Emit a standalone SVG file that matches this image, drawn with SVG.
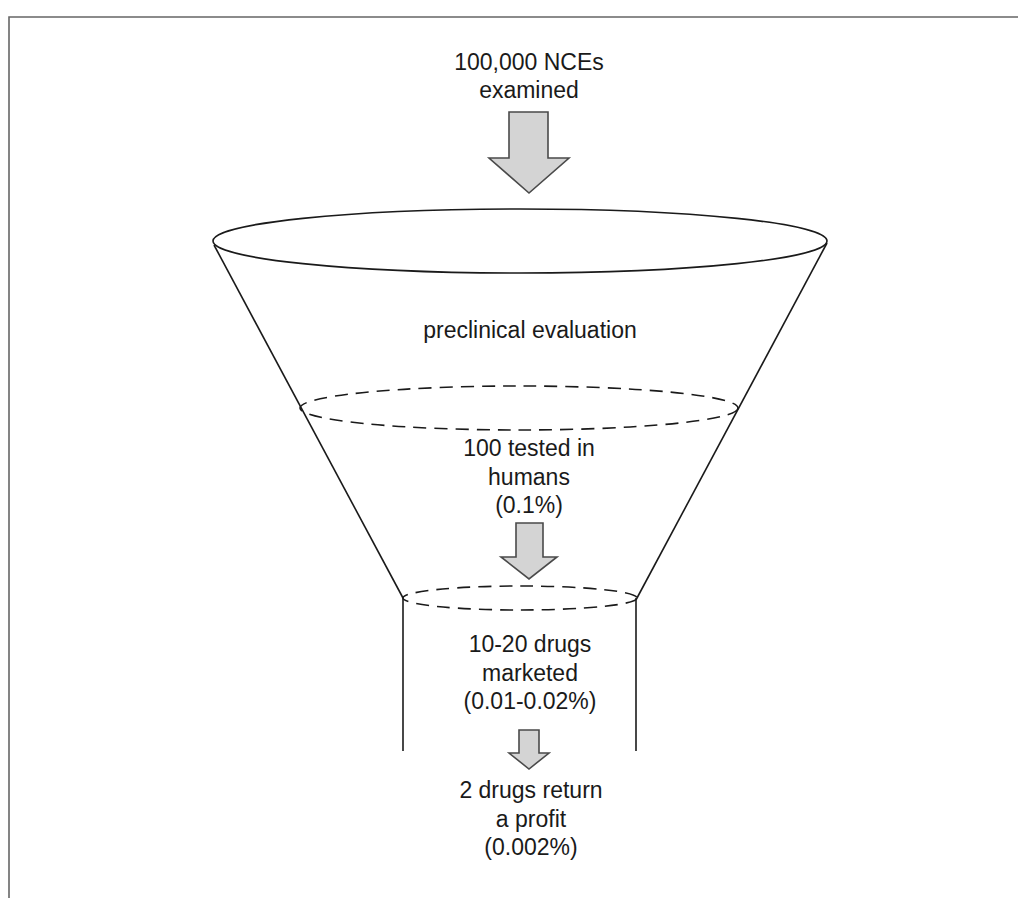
<svg xmlns="http://www.w3.org/2000/svg" width="1018" height="898" viewBox="0 0 1018 898">
<style>
.t{font-family:"Liberation Sans",Arial,sans-serif;font-size:23px;fill:#1a1a1a;text-anchor:middle}
.ln{fill:none;stroke:#1a1a1a;stroke-width:1.6}
.dash{fill:none;stroke:#1a1a1a;stroke-width:1.6;stroke-dasharray:13 8}
.arr{fill:#d4d4d4;stroke:#4a4a4a;stroke-width:1.6;stroke-linejoin:miter}
.frame{fill:none;stroke:#666;stroke-width:1.6}
</style>
<rect width="1018" height="898" fill="#fff"/>
<path class="frame" d="M9,898 V17 H1018"/>
<g id="funnel">
<line class="ln" x1="214" y1="245" x2="403" y2="598"/>
<line class="ln" x1="827" y1="243" x2="637" y2="598"/>
<ellipse class="ln" cx="520" cy="241" rx="307" ry="32"/>
<ellipse class="dash" cx="519" cy="408" rx="219" ry="22"/>
<ellipse class="dash" cx="520" cy="598" rx="117" ry="12"/>
<line class="ln" x1="403" y1="598" x2="403" y2="751"/>
<line class="ln" x1="636" y1="598" x2="636" y2="751"/>
</g>
<g id="connectors">
<polygon class="arr" points="509,112 548,112 548,158 569,158 529,193 489,158 509,158"/>
<polygon class="arr" points="516,523 543,523 543,557 557,557 529,579 501,557 516,557"/>
<polygon class="arr" points="519,730 539,730 539,753 549,753 529,769 509,753 519,753"/>
</g>
<g id="n-top"><text class="t" x="529" y="70">100,000 NCEs</text><text class="t" x="529" y="98">examined</text></g>
<g id="n-preclinical"><text class="t" x="530" y="338">preclinical evaluation</text></g>
<g id="n-humans"><text class="t" x="529" y="456">100 tested in</text><text class="t" x="529" y="485">humans</text><text class="t" x="529" y="513">(0.1%)</text></g>
<g id="n-marketed"><text class="t" x="530" y="652">10-20 drugs</text><text class="t" x="530" y="681">marketed</text><text class="t" x="530" y="709">(0.01-0.02%)</text></g>
<g id="n-profit"><text class="t" x="531" y="798">2 drugs return</text><text class="t" x="531" y="827">a profit</text><text class="t" x="531" y="855">(0.002%)</text></g>
</svg>
